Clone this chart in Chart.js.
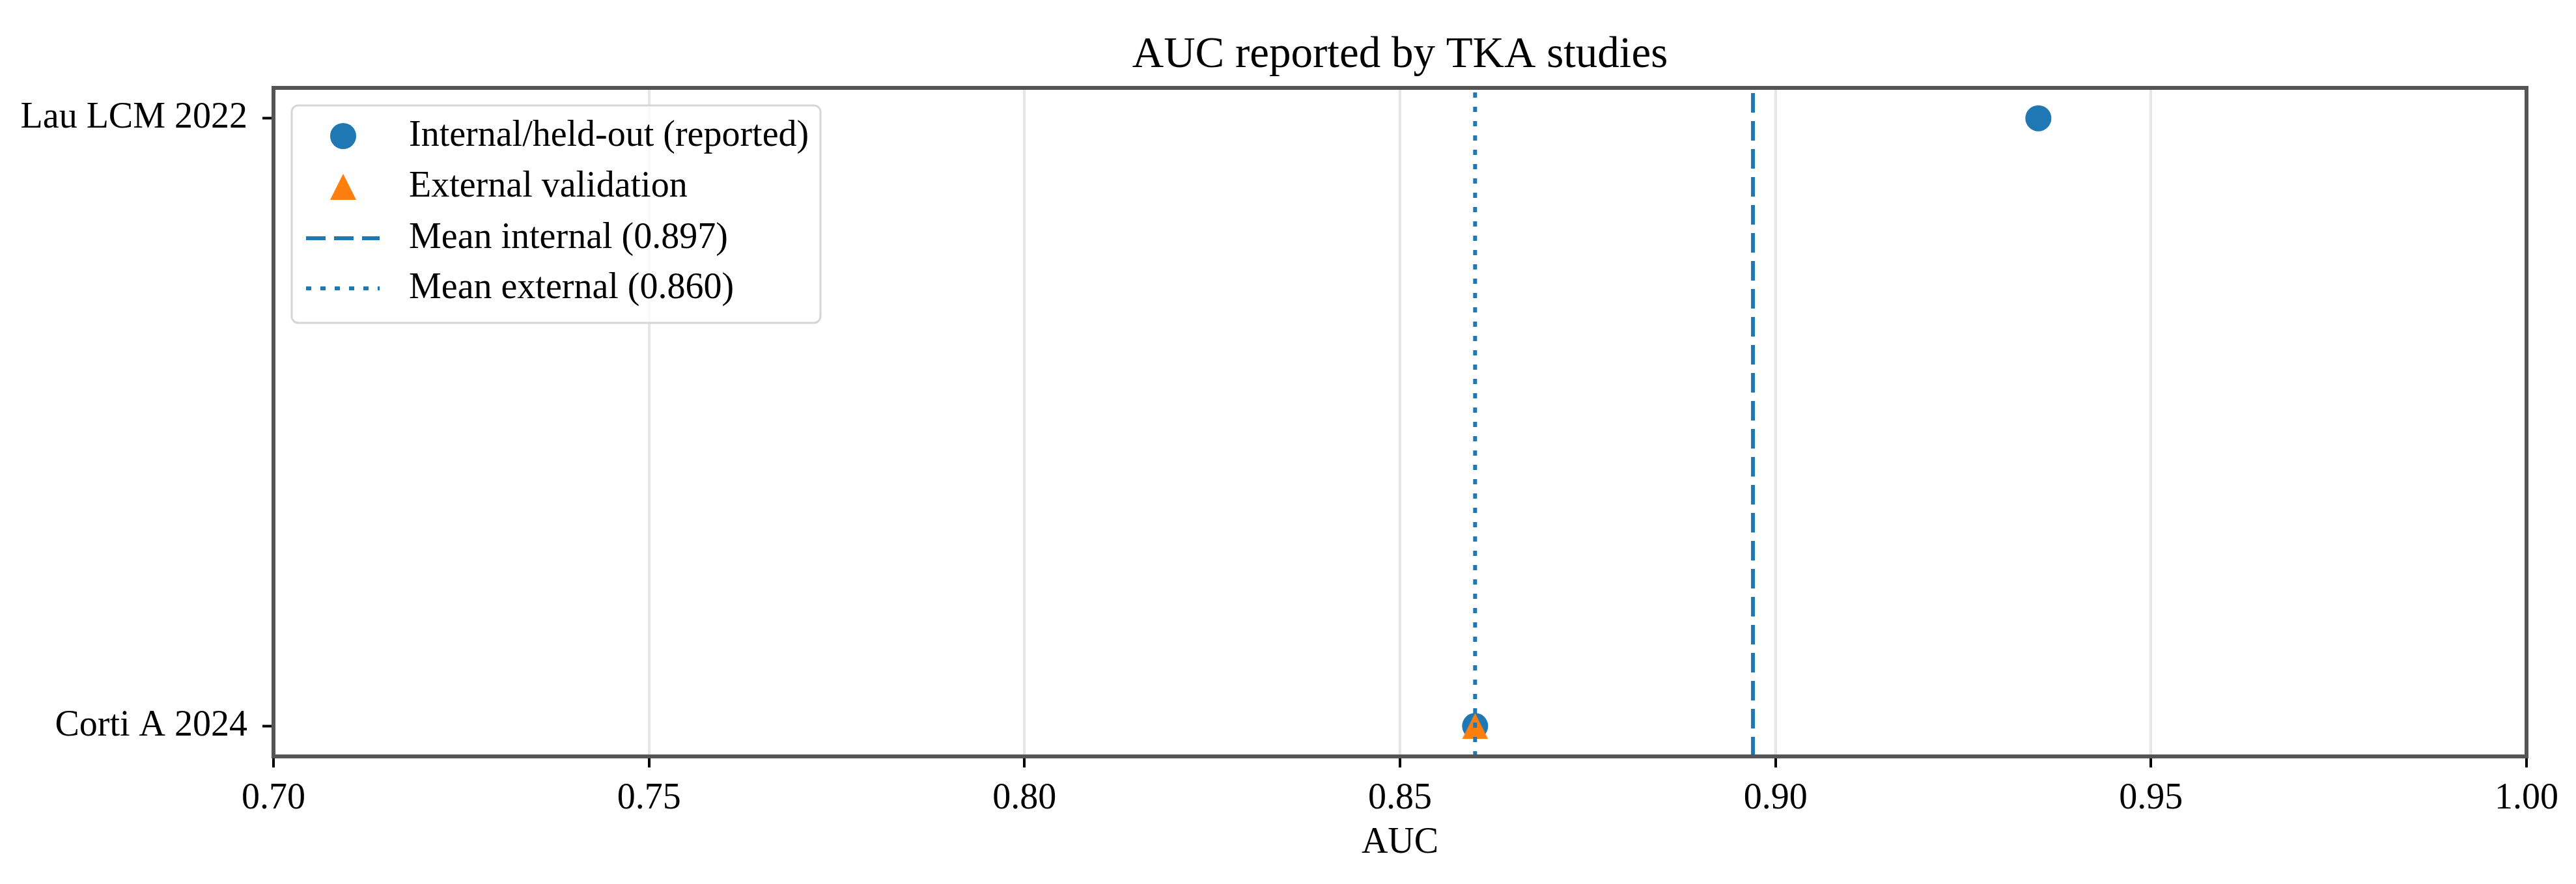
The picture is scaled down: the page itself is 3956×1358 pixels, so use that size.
<!DOCTYPE html>
<html lang="en">
<head>
    <meta charset="UTF-8">
    <title>AUC reported by TKA studies</title>
    <style>
        body {
            margin: 0;
            background-color: #ffffff;
        }
        canvas {
            display: block;
        }
    </style>
</head>
<body>
    <canvas id="aucChart" width="3956" height="1358"></canvas>

    <script src="https://cdn.jsdelivr.net/npm/chart.js"></script>
    <script>
        // Data (y index 0 = bottom row)
        const studies = ['Corti A 2024', 'Lau LCM 2022'];
        const internalAUC = [0.860, 0.935];
        const externalAUC = [0.860, null];
        const meanInternal = 0.897;
        const meanExternal = 0.860;
        const xTicks = [0.70, 0.75, 0.80, 0.85, 0.90, 0.95, 1.00];
        const seriesLabels = [
            'Internal/held-out (reported)',
            'External validation',
            'Mean internal (0.897)',
            'Mean external (0.860)'
        ];

        const BLUE = '#1f77b4';
        const ORANGE = '#ff7f0e';
        const FONT = "'Liberation Serif', 'DejaVu Serif', serif";
        const Y_MIN = -0.05, Y_MAX = 1.05;

        function toPoints(values) {
            const pts = [];
            values.forEach((v, i) => {
                if (v !== null) pts.push({ x: v, y: i });
            });
            return pts;
        }

        // matplotlib-style '^' marker: triangle centred on its bounding box
        function triangleMarker(size, color) {
            const c = document.createElement('canvas');
            c.width = size;
            c.height = size;
            const g = c.getContext('2d');
            g.fillStyle = color;
            g.beginPath();
            g.moveTo(size / 2, 0);
            g.lineTo(size, size);
            g.lineTo(0, size);
            g.closePath();
            g.fill();
            return c;
        }
        const triMarker = triangleMarker(40, ORANGE);

        // Title, frame and legend are drawn on top, matplotlib style
        const decorPlugin = {
            id: 'decor',
            afterDraw(chart) {
                const ctx = chart.ctx;
                const area = chart.chartArea;

                // title
                ctx.save();
                ctx.fillStyle = '#000';
                ctx.font = '67px ' + FONT;
                ctx.textAlign = 'center';
                ctx.textBaseline = 'alphabetic';
                ctx.fillText('AUC reported by TKA studies', (area.left + area.right) / 2, 103);
                ctx.restore();

                // frame
                ctx.save();
                ctx.strokeStyle = '#555555';
                ctx.lineWidth = 6;
                ctx.strokeRect(area.left, area.top, area.right - area.left, area.bottom - area.top);
                ctx.restore();

                // legend
                const box = { x: area.left + 28, y: 162, w: 812, h: 334 };
                ctx.save();
                ctx.beginPath();
                ctx.roundRect(box.x, box.y, box.w, box.h, 10);
                ctx.fillStyle = 'rgba(255,255,255,0.8)';
                ctx.fill();
                ctx.strokeStyle = '#d6d6d6';
                ctx.lineWidth = 3;
                ctx.stroke();

                const rows = [209, 287, 366, 443];
                const handleX = box.x + 79;
                const textX = box.x + 180;
                rows.forEach((ry, i) => {
                    ctx.save();
                    if (i === 0) {
                        ctx.fillStyle = BLUE;
                        ctx.beginPath();
                        ctx.arc(handleX, ry, 20, 0, Math.PI * 2);
                        ctx.fill();
                    } else if (i === 1) {
                        ctx.drawImage(triMarker, handleX - 20, ry - 20);
                    } else {
                        ctx.strokeStyle = BLUE;
                        ctx.lineWidth = 6;
                        ctx.setLineDash(i === 2 ? [30, 13] : [8, 14]);
                        ctx.beginPath();
                        ctx.moveTo(handleX - 57, ry);
                        ctx.lineTo(handleX + 56, ry);
                        ctx.stroke();
                    }
                    ctx.restore();
                    ctx.fillStyle = '#000';
                    ctx.font = '56px ' + FONT;
                    ctx.textAlign = 'left';
                    ctx.textBaseline = 'middle';
                    ctx.fillText(seriesLabels[i], textX, ry);
                });
                ctx.restore();
            }
        };

        const ctx = document.getElementById('aucChart').getContext('2d');
        new Chart(ctx, {
            type: 'scatter',
            data: {
                datasets: [
                    {
                        label: seriesLabels[0],
                        data: toPoints(internalAUC),
                        pointStyle: 'circle',
                        pointRadius: 20,
                        pointBorderWidth: 0,
                        backgroundColor: BLUE,
                        borderColor: BLUE,
                        order: 4
                    },
                    {
                        label: seriesLabels[1],
                        data: toPoints(externalAUC),
                        pointStyle: triMarker,
                        pointRadius: 20,
                        pointBorderWidth: 0,
                        backgroundColor: ORANGE,
                        borderColor: ORANGE,
                        order: 3
                    },
                    {
                        label: seriesLabels[2],
                        type: 'line',
                        data: [{ x: meanInternal, y: Y_MIN }, { x: meanInternal, y: Y_MAX }],
                        borderColor: BLUE,
                        borderWidth: 6,
                        borderDash: [30, 13],
                        pointRadius: 0,
                        fill: false,
                        order: 2
                    },
                    {
                        label: seriesLabels[3],
                        type: 'line',
                        data: [{ x: meanExternal, y: Y_MIN }, { x: meanExternal, y: Y_MAX }],
                        borderColor: BLUE,
                        borderWidth: 6,
                        borderDash: [8, 14],
                        pointRadius: 0,
                        fill: false,
                        order: 1
                    }
                ]
            },
            options: {
                responsive: false,
                animation: false,
                layout: {
                    padding: { left: 0, right: 76, top: 135, bottom: 0 }
                },
                plugins: {
                    legend: { display: false },
                    tooltip: { enabled: false },
                    title: { display: false }
                },
                scales: {
                    x: {
                        type: 'linear',
                        min: xTicks[0],
                        max: xTicks[xTicks.length - 1],
                        afterBuildTicks: (scale) => {
                            scale.ticks = xTicks.map(v => ({ value: v }));
                        },
                        afterFit: (scale) => { scale.height = 196; },
                        grid: {
                            color: '#e6e6e6',
                            lineWidth: 4,
                            tickColor: '#000',
                            tickWidth: 4,
                            tickLength: 17
                        },
                        border: { display: false },
                        ticks: {
                            color: '#000',
                            font: { family: FONT, size: 56 },
                            padding: 15,
                            maxRotation: 0,
                            callback: (v) => Number(v).toFixed(2)
                        },
                        title: {
                            display: true,
                            text: 'AUC',
                            color: '#000',
                            font: { family: FONT, size: 56 },
                            padding: { top: 0, bottom: 29 }
                        }
                    },
                    y: {
                        type: 'linear',
                        min: Y_MIN,
                        max: Y_MAX,
                        afterBuildTicks: (scale) => {
                            scale.ticks = studies.map((s, i) => ({ value: i }));
                        },
                        afterFit: (scale) => { scale.width = 420; },
                        grid: {
                            drawOnChartArea: false,
                            tickColor: '#000',
                            tickWidth: 4,
                            tickLength: 17
                        },
                        border: { display: false },
                        ticks: {
                            color: '#000',
                            font: { family: FONT, size: 56 },
                            padding: 23,
                            callback: (v) => studies[v]
                        }
                    }
                }
            },
            plugins: [decorPlugin]
        });
    </script>
</body>
</html>
